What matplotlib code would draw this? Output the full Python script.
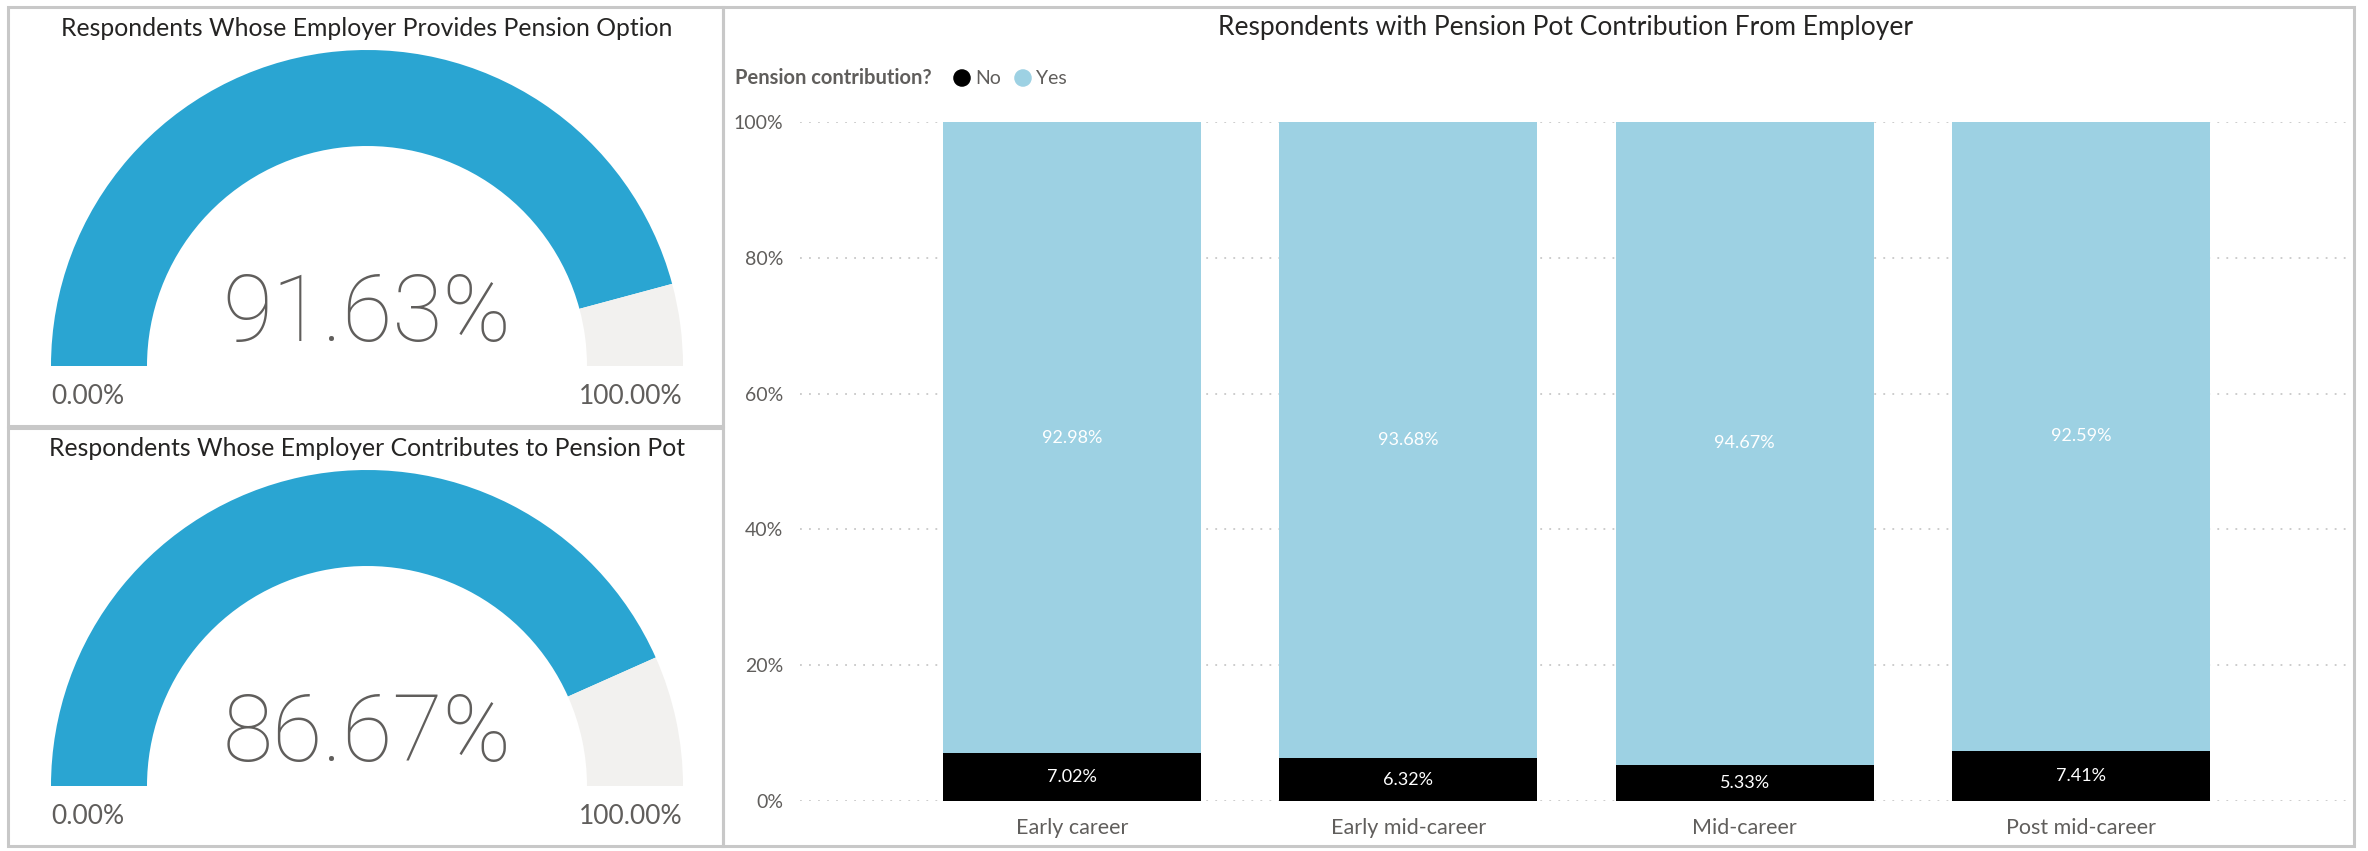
import matplotlib.pyplot as plt
import numpy as np
from matplotlib.patches import Rectangle, Wedge

plt.rcParams["font.family"] = ["Lato", "DejaVu Sans"]

# gauge cards
gauge_titles = [
    "Respondents Whose Employer Provides Pension Option",
    "Respondents Whose Employer Contributes to Pension Pot",
]
gauge_values = [91.63, 86.67]
gauge_min, gauge_max = 0.0, 100.0

# stacked column chart
bar_title = "Respondents with Pension Pot Contribution From Employer"
categories = ["Early career", "Early mid-career", "Mid-career", "Post mid-career"]
no_pct = [7.02, 6.32, 5.33, 7.41]
yes_pct = [92.98, 93.68, 94.67, 92.59]
series_names = ["No", "Yes"]
legend_title = "Pension contribution?"
y_ticks = [0, 20, 40, 60, 80, 100]

GAUGE_BLUE = "#2aa5d2"
GAUGE_REST = "#f2f1ef"
NO_COLOR = "#000000"
YES_COLOR = "#9dd1e3"
TITLE_COLOR = "#252423"
LABEL_COLOR = "#605e5c"
BORDER = "#c8c8c8"

W, H = 2368, 851
fig = plt.figure(figsize=(W / 100, H / 100), dpi=100)

# background axes in pixel units (y down) for cards, gauges and legend
bg = fig.add_axes([0, 0, 1, 1])
bg.set_xlim(0, W)
bg.set_ylim(H, 0)
bg.axis("off")

for x0, y0, x1, y1 in [(8, 7, 723, 426), (8, 428, 723, 846), (723, 7, 2354, 846)]:
    bg.add_patch(Rectangle((x0, y0), x1 - x0, y1 - y0, fill=False,
                           edgecolor=BORDER, lw=2.2, zorder=1))

# gauges: angles are flipped because the y axis points down
r_out, r_in = 316, 220
for i, (title, val) in enumerate(zip(gauge_titles, gauge_values)):
    dy = i * 420
    cx, cy = 367, 366 + dy
    frac = (val - gauge_min) / (gauge_max - gauge_min)
    split = 180 + 180 * frac
    bg.add_patch(Wedge((cx, cy), r_out, 180, split, width=r_out - r_in,
                       facecolor=GAUGE_BLUE, edgecolor="none", zorder=2))
    bg.add_patch(Wedge((cx, cy), r_out, split, 360, width=r_out - r_in,
                       facecolor=GAUGE_REST, edgecolor="none", zorder=2))
    bg.text(cx, 28 + dy, title, ha="center", va="center", fontsize=17.8,
            color=TITLE_COLOR)
    bg.text(cx, 316 + dy, f"{val:.2f}%", ha="center", va="center",
            fontsize=66, fontweight="light", color=LABEL_COLOR,
            family=["Roboto", "DejaVu Sans"])
    bg.text(51, 397 + dy, f"{gauge_min:.2f}%", ha="left", va="center",
            fontsize=19, color=LABEL_COLOR)
    bg.text(683, 397 + dy, f"{gauge_max:.2f}%", ha="right", va="center",
            fontsize=19, color=LABEL_COLOR)

# bar chart title and legend
bg.text(1565, 27, bar_title, ha="center", va="center", fontsize=19,
        color=TITLE_COLOR)
bg.text(735, 78, legend_title, ha="left", va="center", fontsize=14.5,
        fontweight="bold", color=LABEL_COLOR)
bg.scatter([962, 1023], [78, 78], s=135, c=[NO_COLOR, YES_COLOR], zorder=3)
bg.text(975, 78, series_names[0], ha="left", va="center", fontsize=14,
        color=LABEL_COLOR)
bg.text(1036, 78, series_names[1], ha="left", va="center", fontsize=14,
        color=LABEL_COLOR)

# stacked columns
ax = fig.add_axes([800 / W, (H - 801) / H, 1550 / W, 679 / H])
x = np.arange(len(categories))
width = 0.767
no = np.array(no_pct)
yes = np.array(yes_pct)
ax.bar(x, no, width, color=NO_COLOR, zorder=2)
ax.bar(x, yes, width, bottom=no, color=YES_COLOR, zorder=2)

for xi, n, y in zip(x, no, yes):
    ax.text(xi, n / 2, f"{n:.2f}%", ha="center", va="center",
            fontsize=13, color="white", zorder=3)
    ax.text(xi, n + y / 2, f"{y:.2f}%", ha="center", va="center",
            fontsize=13, color="white", zorder=3)

ax.set_xlim(-0.809, 3.80)
ax.set_ylim(0, 100)
ax.set_yticks(y_ticks)
ax.set_yticklabels([f"{t}%" for t in y_ticks])
ax.set_xticks(x)
ax.set_xticklabels(categories)
ax.tick_params(axis="y", length=0, pad=12, labelsize=14, labelcolor=LABEL_COLOR)
ax.tick_params(axis="x", length=0, pad=12, labelsize=15.5, labelcolor=LABEL_COLOR)
ax.yaxis.grid(True, color=BORDER, linestyle=(0, (1, 4)), linewidth=1.3, zorder=0)
ax.set_axisbelow(True)
for s in ax.spines.values():
    s.set_visible(False)
ax.patch.set_alpha(0)

fig.savefig("out.png", dpi=100)
